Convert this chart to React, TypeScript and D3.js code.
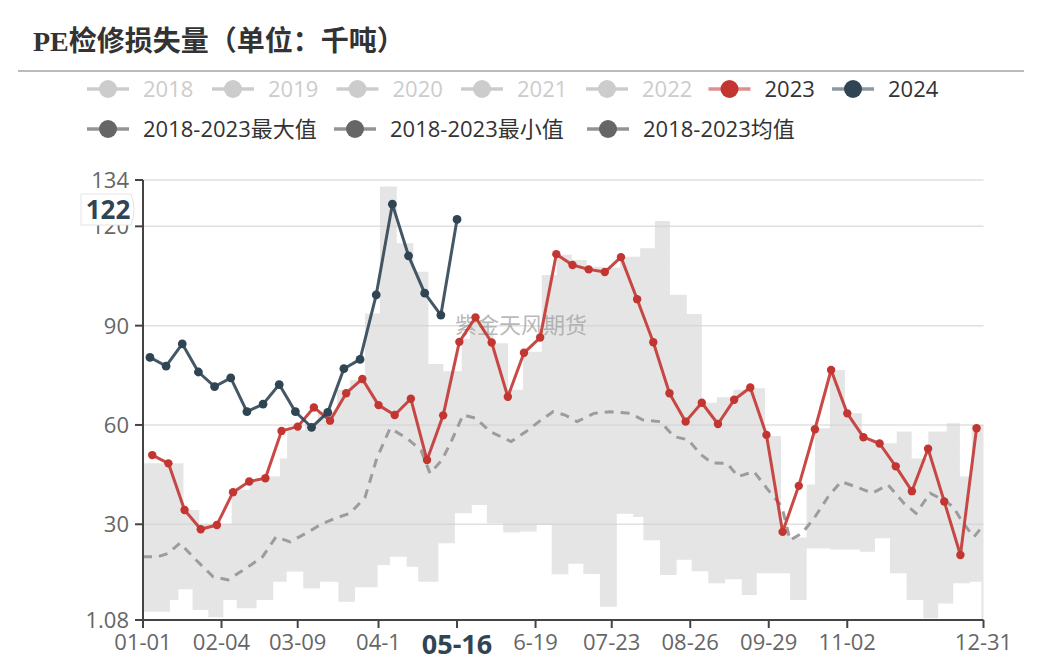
import React from 'react';
import * as d3 from 'd3';

// ---------- DATA ----------
const legendYears = ['2018', '2019', '2020', '2021', '2022', '2023', '2024'];
const legendStats = ['2018-2023最大值', '2018-2023最小值', '2018-2023均值'];

const xTickDays = [0, 34, 67, 102, 136, 170, 203, 237, 271, 305, 364];
const xTickLabels = ['01-01', '02-04', '03-09', '04-1', '05-16', '6-19', '07-23', '08-26', '09-29', '11-02', '12-31'];
const yTickValues = [1.08, 30, 60, 90, 120, 134];
const yTickLabels = ['1.08', '30', '60', '90', '120', '134'];

// weekly observations, day-of-year of the first point
const start2023 = 4;
const start2024 = 3;
const values2023 = [50.9, 48.4, 34.3, 28.5, 29.8, 39.7, 42.9, 43.9, 58.2, 59.5, 65.3, 61.3, 69.6, 73.9, 66.0, 63.0, 67.9, 49.4, 62.9, 85.1, 92.5, 84.9, 68.5, 81.8, 86.4, 111.6, 108.3, 107.0, 106.2, 110.7, 98.0, 85.0, 69.6, 61.0, 66.7, 60.3, 67.6, 71.3, 57.0, 27.7, 41.6, 58.7, 76.6, 63.5, 56.3, 54.4, 47.5, 40.0, 52.8, 36.9, 20.7, 59.0];
const values2024 = [80.4, 77.8, 84.5, 76.0, 71.6, 74.2, 64.0, 66.3, 72.2, 64.0, 59.3, 63.8, 77.0, 79.8, 99.3, 126.7, 111.1, 99.8, 93.2, 122.1];

// 2018-2023 max (step starts)
const maxDays = [0, 17.5, 24.4, 38.4, 46.3, 53.3, 59.3, 62.4, 70.2, 75.8, 84.0, 89.6, 96.1, 102.6, 109.9, 117.1, 123.6, 130.1, 138.0, 141.6, 148.9, 151.7, 158.1, 164.6, 172.7, 179.2, 185.7, 192.2, 199.4, 206.6, 215.3, 221.7, 228.2, 235.5, 242.0, 248.5, 255.7, 262.9, 269.4, 276.3, 280.2, 287.4, 291.0, 297.5, 304.0, 311.3, 318.5, 326.4, 332.9, 340.1, 348.1, 353.8, 358.9];
const maxVals = [48.4, 34.3, 30.1, 40.4, 42.9, 44.4, 49.9, 58.5, 60.5, 64.0, 70.6, 73.6, 93.7, 132.0, 114.9, 106.3, 78.4, 76.2, 86, 91, 88, 84.7, 70.6, 82.1, 105.3, 111.4, 109.8, 107.8, 107.5, 110.8, 113.4, 121.6, 99.3, 93.5, 66.7, 68.4, 70.6, 71.1, 56.7, 28, 26, 42, 59, 76.6, 63.5, 55, 54.5, 58, 49.9, 58, 60.5, 44.4, 60];
// 2018-2023 min (step starts)
const minDays = [0, 11.7, 15.3, 21.5, 28.3, 34.8, 40.6, 49.2, 56.4, 62.2, 69.4, 76.7, 84.6, 91.8, 101.6, 107.0, 114.2, 119.2, 127.9, 135.1, 142.4, 148.9, 156.0, 163.3, 170.5, 177.0, 184.2, 190.7, 197.9, 205.2, 212.3, 216.7, 223.9, 231.1, 237.6, 244.8, 252.1, 259.3, 265.8, 280.2, 287.4, 297.5, 310.5, 317.0, 323.5, 330.7, 337.9, 344.4, 350.9, 358.2, 363.1];
const minVals = [3.6, 7.1, 10.4, 4.1, 1.9, 7.1, 4.6, 7.1, 12.6, 15.7, 10.6, 12.6, 6.6, 11, 17.7, 20.2, 17.2, 12.6, 24.3, 33.3, 35.8, 30.3, 27.5, 27.8, 29.8, 14.9, 18.1, 15.0, 5.1, 33.2, 32.2, 25.2, 14.7, 19.3, 15.8, 12.2, 13.4, 8.6, 15.2, 7.1, 22.7, 22.4, 21.7, 25.8, 15.2, 7.1, 1.6, 6.1, 12.2, 12.6, 1.08];
// 2018-2023 mean
const meanDays = [0, 6.5, 10.8, 16.0, 23.0, 30.3, 36.8, 44.6, 51.8, 57.6, 63.7, 70.6, 78.0, 83.2, 89.6, 96.1, 101.3, 107.0, 114.3, 120.4, 124.3, 129.5, 133.8, 138.6, 144.2, 150.3, 159.4, 165.9, 172.4, 177.6, 182.8, 188.0, 195.3, 202.3, 210.9, 216.6, 224.0, 230.0, 236.1, 241.7, 246.5, 253.0, 257.7, 264.6, 270.7, 276.7, 280.2, 285.4, 290.6, 296.7, 302.3, 308.4, 315.8, 322.7, 329.6, 334.8, 340.9, 346.5, 350.9, 355.2, 359.9, 362.9];
const meanVals = [20.2, 20.2, 21.2, 24.3, 19.2, 14.2, 13.2, 16.7, 20.2, 26.2, 24.7, 27.3, 30.3, 31.8, 33.3, 38.0, 50, 59, 56, 52.4, 45.4, 49.4, 55.5, 63, 62, 58, 55, 58, 61.5, 64, 63, 61, 63.5, 64, 63.5, 61.5, 61, 56.5, 55.5, 51, 48.5, 48.4, 44.4, 45.9, 40.4, 35.3, 25.2, 27.3, 31.8, 38.3, 42.9, 41.4, 39.4, 41.9, 36.3, 33.3, 39.4, 37.3, 35.3, 30.3, 26.2, 28.8];

const pointerValue = 122;
const pointerDateLabel = '05-16';
const pointerDateIndex = 4;

// ---------- STYLE ----------
const C2023 = '#c23531';
const C2024 = '#2f4554';
const SANS = '"Open Sans", "Noto Sans CJK SC", sans-serif';

export default function App() {
  const x = d3.scaleLinear().domain([0, 364]).range([143, 983.5]);
  const y = d3.scaleLinear().domain([1.08, 134]).range([620, 180]);

  const stepVal = (days: number[], vals: number[], d: number) => {
    let v = vals[0];
    for (let i = 0; i < days.length; i++) if (days[i] <= d + 1e-9) v = vals[i];
    return v;
  };
  const grid = Array.from(new Set([...maxDays, ...minDays, 364])).sort((a, b) => a - b);
  const band = grid.map(d => ({ d, hi: stepVal(maxDays, maxVals, d), lo: stepVal(minDays, minVals, d) }));
  const area = d3.area<any>().x(p => x(p.d)).y0(p => y(p.lo)).y1(p => y(p.hi)).curve(d3.curveStepAfter);

  const pts2023 = values2023.map((v, i) => ({ d: start2023 + 7 * i, v }));
  const pts2024 = values2024.map((v, i) => ({ d: start2024 + 7 * i, v }));
  const meanPts = meanVals.map((v, i) => ({ d: meanDays[i], v }));
  const line = d3.line<any>().x(p => x(p.d)).y(p => y(p.v));

  const [x0, x1] = x.range();
  const yBase = y(1.08);

  // legend layout
  const row1Centers = [108, 233, 357.5, 482, 607, 729.5, 853];
  const row2Centers = [108, 355, 608];
  const legendItem = (cx: number, cy: number, label: string, lineColor: string, lineOpacity: number, dotColor: string, textColor: string, key: string) => (
    <g key={key}>
      <line x1={cx - 21} x2={cx + 21} y1={cy} y2={cy} stroke={lineColor} strokeOpacity={lineOpacity} strokeWidth={3.5} />
      <circle cx={cx} cy={cy} r={9} fill={dotColor} />
      <text x={cx + 35} y={cy} dy="0.36em" fontSize={22} fill={textColor} fontFamily={SANS}>{label}</text>
    </g>
  );

  const pointerX = x(xTickDays[pointerDateIndex]);
  const boxTop = 194, boxBottom = 225;
  const boxMid = (boxTop + boxBottom) / 2;

  return (
    <div style={{ position: 'absolute', left: 0, top: 0 }}>
      <svg width={1042} height={665} style={{ display: 'block', background: '#fff' }}>
        {/* title */}
        <text x={33} y={51} fontSize={28} fontWeight="bold" fill="#333" fontFamily='"Liberation Serif", "Noto Sans CJK SC", serif'>PE检修损失量（单位：千吨）</text>
        <line x1={18} x2={1024} y1={71} y2={71} stroke="#bbb" strokeWidth={2} />

        {/* legend */}
        {legendYears.map((yr, i) => {
          const active = yr === '2023' || yr === '2024';
          const col = yr === '2023' ? C2023 : yr === '2024' ? C2024 : '#ccc';
          return legendItem(row1Centers[i], 89, yr, col, active ? 0.55 : 1, col, active ? '#333' : '#ccc', 'ly' + i);
        })}
        {legendStats.map((s, i) => legendItem(row2Centers[i], 129, s, '#666', 0.7, '#666', '#333', 'ls' + i))}

        {/* gridlines */}
        {yTickValues.filter(v => v > 1.08).map(v => (
          <line key={'g' + v} x1={x0} x2={x1} y1={y(v)} y2={y(v)} stroke="#e0e0e0" strokeWidth={1.5} />
        ))}

        {/* min-max band */}
        <path d={area(band) || ''} fill="#cfcfcf" fillOpacity={0.55} />

        {/* watermark */}
        <text x={521} y={325} dy="0.36em" textAnchor="middle" fontSize={22} fill="#9a9a9a" fillOpacity={0.7} fontFamily='"Noto Sans CJK SC", sans-serif'>紫金天风期货</text>

        {/* mean */}
        <path d={line(meanPts) || ''} fill="none" stroke="#9c9c9c" strokeWidth={3} strokeDasharray="9,7" />

        {/* 2023 */}
        <path d={line(pts2023) || ''} fill="none" stroke={C2023} strokeOpacity={0.9} strokeWidth={3} strokeLinejoin="round" />
        {pts2023.map((p, i) => <circle key={'r' + i} cx={x(p.d)} cy={y(p.v)} r={4.2} fill={C2023} />)}

        {/* 2024 */}
        <path d={line(pts2024) || ''} fill="none" stroke={C2024} strokeOpacity={0.9} strokeWidth={3} strokeLinejoin="round" />
        {pts2024.map((p, i) => <circle key={'b' + i} cx={x(p.d)} cy={y(p.v)} r={4.4} fill={C2024} />)}

        {/* axes */}
        <line x1={x0} x2={x0} y1={y(134)} y2={yBase} stroke="#444" strokeWidth={2} />
        <line x1={x0} x2={x1} y1={yBase} y2={yBase} stroke="#444" strokeWidth={2} />
        {yTickValues.map((v, i) => (
          <g key={'yt' + i}>
            <line x1={x0 - 8} x2={x0} y1={y(v)} y2={y(v)} stroke="#444" strokeWidth={2} />
            <text x={129} y={y(v)} dy="0.36em" textAnchor="end" fontSize={22} fill="#666" fontFamily={SANS}>{yTickLabels[i]}</text>
          </g>
        ))}
        {xTickDays.map((d, i) => (
          <g key={'xt' + i}>
            <line x1={x(d)} x2={x(d)} y1={yBase} y2={yBase + 8} stroke="#444" strokeWidth={2} />
            {i !== pointerDateIndex && (
              <text x={x(d)} y={642} dy="0.36em" textAnchor="middle" fontSize={22} fill="#666" fontFamily={SANS}>{xTickLabels[i]}</text>
            )}
          </g>
        ))}

        {/* axis pointer labels */}
        <g>
          <path d={`M81,${boxTop} H131 Q137,${boxMid} 131,${boxBottom} H81 Z`} fill="#fff" stroke="#e4e4e4" strokeWidth={1} />
          <text x={108} y={boxMid} dy="0.36em" textAnchor="middle" fontSize={26} fontWeight="bold" fill={C2024} fontFamily={SANS}>{pointerValue}</text>
        </g>
        <g>
          <rect x={pointerX - 40} y={629} width={80} height={30} fill="#fff" />
          <text x={pointerX} y={644} dy="0.36em" textAnchor="middle" fontSize={27} fontWeight="bold" fill={C2024} fontFamily={SANS}>{pointerDateLabel}</text>
        </g>
      </svg>
    </div>
  );
}
